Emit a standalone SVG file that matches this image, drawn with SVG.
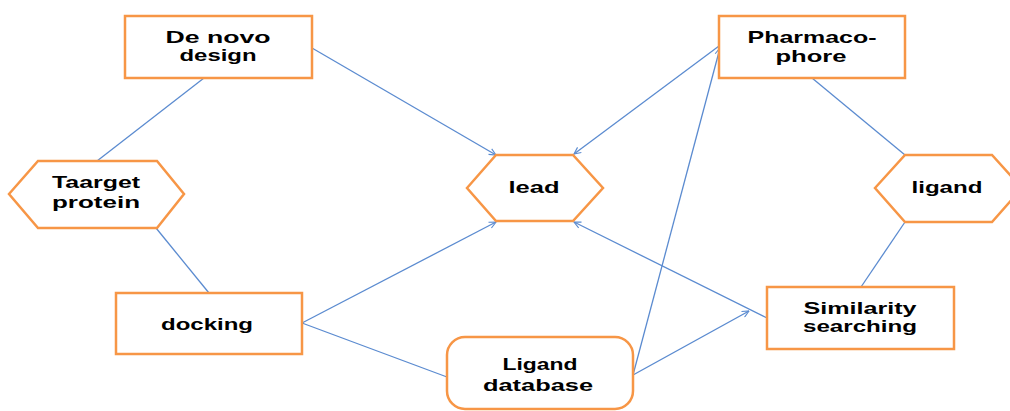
<svg xmlns="http://www.w3.org/2000/svg" width="1010" height="411" viewBox="0 0 1010 411">
<style>
.n{fill:#fff;stroke:#f79646;stroke-width:2.5}
.c{stroke:#5b8bd0;stroke-width:1.3;fill:none}
.t{font-family:"Liberation Sans",Arial,sans-serif;font-weight:bold;font-size:17px;fill:#000;text-anchor:middle}
</style>
<defs>
<marker id="a" viewBox="0 0 10 10" refX="9.5" refY="5" markerWidth="8" markerHeight="8" markerUnits="userSpaceOnUse" orient="auto">
<path d="M1,1 L9.5,5 L1,9" fill="none" stroke="#5b8bd0" stroke-width="1.4"/>
</marker>
</defs>
<rect width="1010" height="411" fill="#fff"/>
<g id="connectors">
<line class="c" x1="204" y1="78" x2="97" y2="161"/>
<line class="c" x1="156" y1="228" x2="209" y2="293"/>
<line class="c" x1="312" y1="48" x2="496" y2="155" marker-end="url(#a)"/>
<line class="c" x1="719" y1="46" x2="574" y2="154" marker-end="url(#a)"/>
<line class="c" x1="302" y1="323" x2="496" y2="222" marker-end="url(#a)"/>
<line class="c" x1="302" y1="323" x2="447" y2="377"/>
<line class="c" x1="633" y1="375" x2="720" y2="48" marker-end="url(#a)"/>
<line class="c" x1="633" y1="375" x2="749" y2="311" marker-end="url(#a)"/>
<line class="c" x1="767" y1="318" x2="574" y2="222" marker-end="url(#a)"/>
<line class="c" x1="812" y1="78" x2="905" y2="155"/>
<line class="c" x1="905" y1="222" x2="861" y2="287"/>
</g>
<g id="denovo">
<rect class="n" x="125" y="16" width="187" height="62"/>
<text class="t" x="218" y="43" textLength="105" lengthAdjust="spacingAndGlyphs">De  novo</text>
<text class="t" x="218" y="61" textLength="77" lengthAdjust="spacingAndGlyphs">design</text>
</g>
<g id="target">
<polygon class="n" points="9,194 38,161 157,161 184,194 157,228 38,228"/>
<text class="t" x="96" y="188" textLength="88" lengthAdjust="spacingAndGlyphs">Taarget</text>
<text class="t" x="96" y="208" textLength="88" lengthAdjust="spacingAndGlyphs">protein</text>
</g>
<g id="docking">
<rect class="n" x="116" y="293" width="186" height="61"/>
<text class="t" x="207" y="330" textLength="92" lengthAdjust="spacingAndGlyphs">docking</text>
</g>
<g id="lead">
<polygon class="n" points="467,188 496,155 573,155 603,188 573,221 496,221"/>
<text class="t" x="534" y="193" textLength="51" lengthAdjust="spacingAndGlyphs">lead</text>
</g>
<g id="ligdb">
<rect class="n" x="447" y="337" width="186" height="72" rx="18"/>
<text class="t" x="540" y="370" textLength="75" lengthAdjust="spacingAndGlyphs">Ligand</text>
<text class="t" x="538" y="391" textLength="110" lengthAdjust="spacingAndGlyphs">database</text>
</g>
<g id="pharmacophore">
<rect class="n" x="719" y="16" width="186" height="62"/>
<text class="t" x="812" y="43" textLength="129" lengthAdjust="spacingAndGlyphs">Pharmaco-</text>
<text class="t" x="811" y="62" textLength="71" lengthAdjust="spacingAndGlyphs">phore</text>
</g>
<g id="ligand">
<polygon class="n" points="875,188 905,155 992,155 1022,188 992,222 905,222"/>
<text class="t" x="947" y="193" textLength="71" lengthAdjust="spacingAndGlyphs">ligand</text>
</g>
<g id="similarity">
<rect class="n" x="767" y="287" width="187" height="62"/>
<text class="t" x="860" y="314" textLength="113" lengthAdjust="spacingAndGlyphs">Similarity</text>
<text class="t" x="860" y="332" textLength="114" lengthAdjust="spacingAndGlyphs">searching</text>
</g>
</svg>
